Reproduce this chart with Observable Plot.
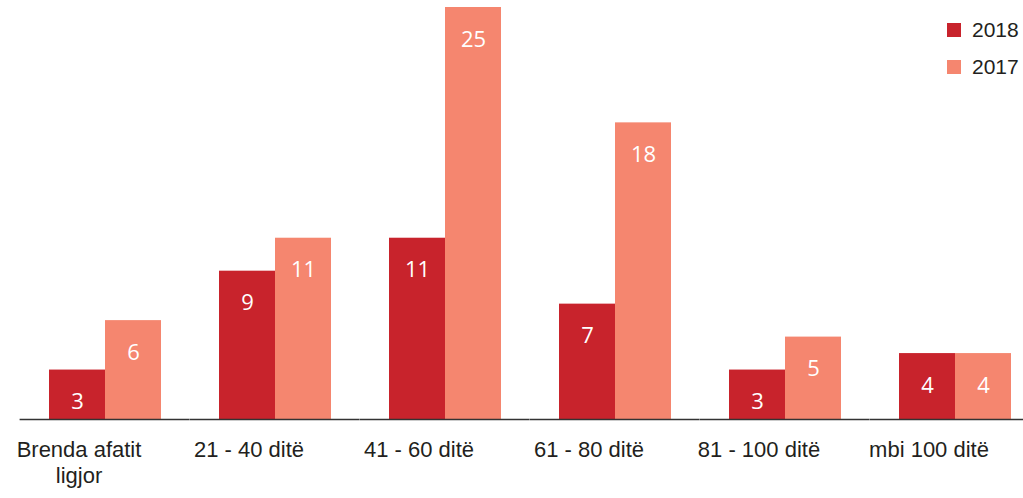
<!DOCTYPE html>
<html><head><meta charset="utf-8">
<script src="https://cdn.jsdelivr.net/npm/d3@7"></script>
<script src="https://cdn.jsdelivr.net/npm/@observablehq/plot@0.6"></script>
<style>
body{margin:0;background:#fff}
#wrap{position:relative;width:1023px;height:498px}
#legend{position:absolute;left:947px;top:11px;font:21px "Liberation Sans",Arial,sans-serif;color:#231f20}
.item{display:flex;align-items:center;height:37px}
.sw{width:14px;height:14px;margin-right:11px}
</style>
</head><body>
<div id="wrap"><div id="legend"></div></div>
<script>
const categories = ["Brenda afatit\nligjor", "21 - 40 ditë", "41 - 60 ditë", "61 - 80 ditë", "81 - 100 ditë", "mbi 100 ditë"];
const years = ["2018", "2017"];
const values2018 = [3, 9, 11, 7, 3, 4];
const values2017 = [6, 11, 25, 18, 5, 4];
const colors = ["#c8232c", "#f5866f"];

const data = [];
categories.forEach((c, i) => {
  data.push({cat: c, year: years[0], value: values2018[i]});
  data.push({cat: c, year: years[1], value: values2017[i]});
});

const chart = Plot.plot({
  width: 1023,
  height: 498,
  marginTop: 7,
  marginBottom: 79,
  marginLeft: 40,
  marginRight: 3,
  style: {fontFamily: '"Liberation Sans", Arial, sans-serif', fontSize: "22px", color: "#231f20", background: "transparent"},
  fx: {domain: categories, paddingInner: 0.2623, paddingOuter: 0, label: null, axis: null},
  x: {domain: years, paddingInner: 0, paddingOuter: 0.105, axis: null},
  y: {domain: [0, 25], axis: null},
  color: {domain: years, range: colors},
  marks: [
    Plot.barY(data, {fx: "cat", x: "year", y: "value", fill: "year"}),
    Plot.ruleY([0], {stroke: "#333", strokeWidth: 1.5, insetLeft: -22.4, insetRight: -22.4}),
    Plot.text(data, {fx: "cat", x: "year", y: "value", text: d => String(d.value), fill: "white", dy: 32, fontSize: 22, fontFamily: '"Open Sans", sans-serif'}),
    Plot.axisFx({anchor: "bottom", tickSize: 0, tickPadding: 18, fontSize: 22, lineHeight: 1.22, dx: -26, label: null, fill: "#231f20"})
  ]
});
document.getElementById("wrap").prepend(chart);

const legend = document.getElementById("legend");
years.forEach((y, i) => {
  const item = document.createElement("div");
  item.className = "item";
  const sw = document.createElement("span");
  sw.className = "sw";
  sw.style.background = colors[i];
  const t = document.createElement("span");
  t.textContent = y;
  item.append(sw, t);
  legend.append(item);
});
</script>
</body></html>
